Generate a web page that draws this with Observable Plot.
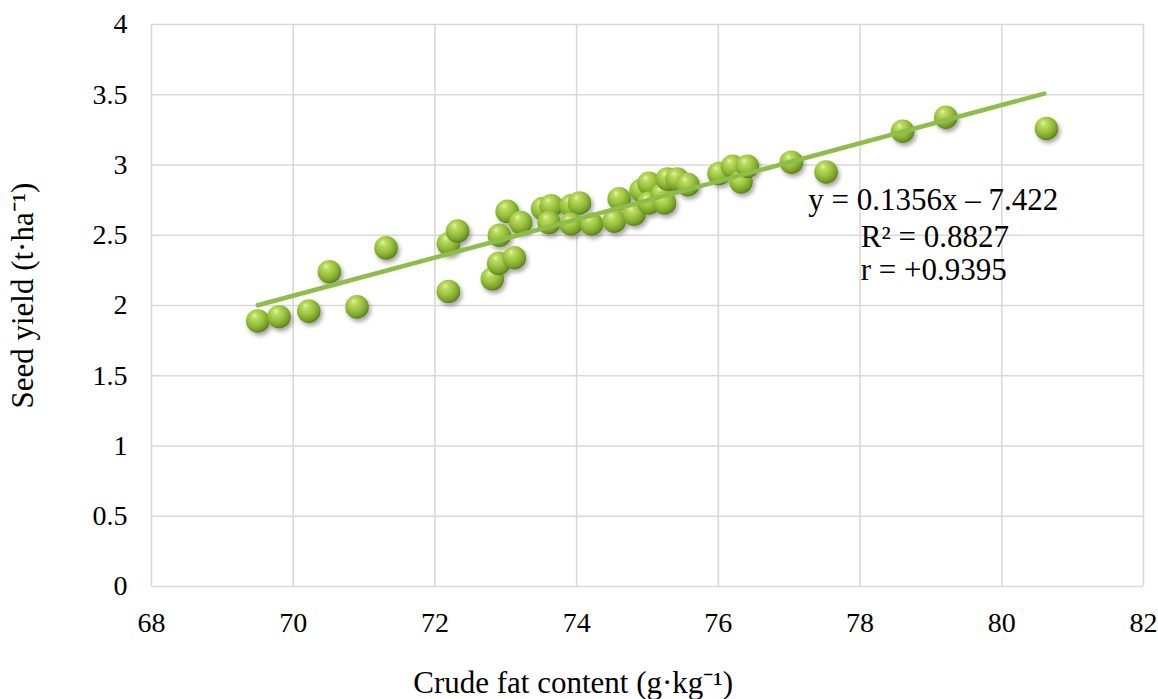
<!DOCTYPE html>
<html><head><meta charset="utf-8">
<script src="https://cdn.jsdelivr.net/npm/d3@7"></script>
<script src="https://cdn.jsdelivr.net/npm/@observablehq/plot@0.6"></script>
<style>html,body{margin:0;padding:0;background:#fff} svg{display:block}</style>
</head><body><div id="chart"></div>
<script>
// Crude fat content (g·kg⁻¹) of each sample
const fatContent = [69.50, 69.80, 70.22, 70.90, 70.51, 71.31, 72.19, 72.19, 72.32, 72.81,
  72.90, 72.91, 73.02, 73.12, 73.21, 73.52, 73.64, 73.61, 73.92, 74.04,
  73.92, 74.21, 74.53, 74.60, 74.81, 74.91, 75.02, 75.02, 75.21, 75.24,
  75.28, 75.42, 75.57, 76.01, 76.20, 76.32, 76.41, 77.03, 77.52, 78.60,
  79.21, 80.63];
// Seed yield (t·ha⁻¹) of each sample
const seedYield = [1.89, 1.92, 1.96, 1.99, 2.24, 2.41, 2.10, 2.44, 2.53, 2.19,
  2.30, 2.50, 2.67, 2.34, 2.59, 2.69, 2.71, 2.59, 2.71, 2.73,
  2.58, 2.58, 2.60, 2.76, 2.65, 2.82, 2.87, 2.73, 2.79, 2.73,
  2.90, 2.90, 2.86, 2.94, 2.99, 2.88, 2.99, 3.02, 2.95, 3.24,
  3.34, 3.26];
// Linear trendline end points
const trendX = [69.5, 80.6];
const trendY = [2.002, 3.508];
const xTicks = [68, 70, 72, 74, 76, 78, 80, 82];
const yTicks = [0, 0.5, 1, 1.5, 2, 2.5, 3, 3.5, 4];
const equationLines = ["y = 0.1356x – 7.422", "R² = 0.8827", "r = +0.9395"];
const xLabel = "Crude fat content (g·kg⁻¹)";
const yLabel = "Seed yield (t·ha⁻¹)";

const points = fatContent.map((x, i) => ({x, y: seedYield[i]}));
const trend = trendX.map((x, i) => ({x, y: trendY[i]}));

const serif = "'Liberation Serif', 'Times New Roman', serif";

const svg = Plot.plot({
  width: 1158,
  height: 699,
  marginLeft: 151,
  marginRight: 15,
  marginTop: 24,
  marginBottom: 113,
  style: {fontFamily: serif, fontSize: "28px", background: "#fff", color: "#000", overflow: "visible"},
  x: {domain: [68, 82]},
  y: {domain: [0, 4]},
  marks: [
    Plot.gridX(xTicks, {stroke: "#d9d9d9", strokeOpacity: 1, strokeWidth: 1.6}),
    Plot.gridY(yTicks, {stroke: "#d9d9d9", strokeOpacity: 1, strokeWidth: 1.6}),
    Plot.axisX(xTicks, {tickSize: 0, tickPadding: 26, fontSize: 28, label: null, fill: "#000"}),
    Plot.axisY(yTicks, {tickSize: 0, tickPadding: 24, fontSize: 28, label: null, fill: "#000", tickFormat: d => String(d)}),
    Plot.dot(points, {x: "x", y: "y", r: 11.8, fill: "url(#ball)", stroke: "none"}),
    Plot.line(trend, {x: "x", y: "y", stroke: "#8fbd4a", strokeWidth: 4.5}),
    Plot.text([equationLines[0]], {x: 77.27, y: 2.75, text: d => d, textAnchor: "start", fontSize: 31, fill: "#000"}),
    Plot.text([equationLines[1]], {x: 78.01, y: 2.487, text: d => d, textAnchor: "start", fontSize: 31, fill: "#000"}),
    Plot.text([equationLines[2]], {x: 78.01, y: 2.253, text: d => d, textAnchor: "start", fontSize: 31, fill: "#000"}),
    Plot.text([xLabel], {x: 73.95, frameAnchor: "bottom", lineAnchor: "bottom", textAnchor: "middle", dy: 106, text: d => d, fontSize: 31, fill: "#000"}),
    Plot.text([yLabel], {y: 2.07, frameAnchor: "left", textAnchor: "middle", lineAnchor: "middle", dx: -128, rotate: -90, text: d => d, fontSize: 31, fill: "#000"})
  ]
});

const defs = d3.select(svg).insert("defs", ":first-child");
const g = defs.append("radialGradient").attr("id", "ball")
  .attr("cx", "0.42").attr("cy", "0.38").attr("r", "0.62")
  .attr("fx", "0.36").attr("fy", "0.26");
[["0%", "#e6f5b0"], ["20%", "#bcdc62"], ["55%", "#9ac33e"], ["85%", "#76a02a"], ["100%", "#5a7e1c"]]
  .forEach(([o, c]) => g.append("stop").attr("offset", o).attr("stop-color", c));
const f = defs.append("filter").attr("id", "shadow").attr("x", "-50%").attr("y", "-50%").attr("width", "200%").attr("height", "200%");
f.append("feDropShadow").attr("dx", 2).attr("dy", 3).attr("stdDeviation", 2).attr("flood-color", "#000").attr("flood-opacity", 0.35);
d3.select(svg).selectAll('g[aria-label="dot"]').attr("filter", "url(#shadow)");
d3.select(svg).selectAll('g[aria-label$="tick label"]').attr("font-size", 28).attr("font-family", serif);

document.getElementById("chart").appendChild(svg);
</script></body></html>
